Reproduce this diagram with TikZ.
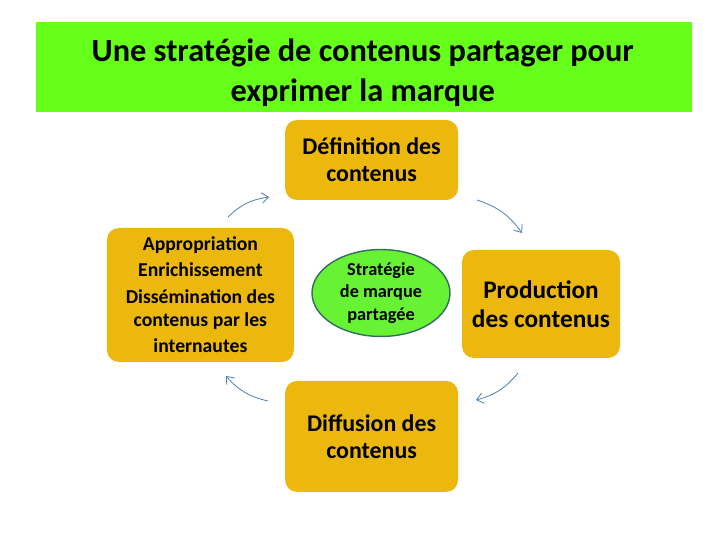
\documentclass[tikz,border=0pt]{standalone}
\usepackage{fontspec}
\setmainfont{Carlito}
\usetikzlibrary{shapes.geometric, arrows.meta}

\definecolor{titlegreen}{RGB}{102,255,26}
\definecolor{boxgold}{RGB}{236,184,14}
\definecolor{ovalgreen}{RGB}{104,242,52}
\definecolor{ovalline}{RGB}{49,110,96}
\definecolor{cyclearrow}{RGB}{84,130,186}

\tikzset{
  stepbox/.style={fill=boxgold, rounded corners=0.3cm, align=center, inner sep=0pt,
                  font=\bfseries\fontsize{17}{19}\selectfont},
  cyclearr/.style={-{Straight Barb[length=1.6mm, width=2.6mm]}, cyclearrow,
                   line width=0.6pt, bend left=18},
}

\begin{document}
\begin{tikzpicture}

\useasboundingbox (0,0) rectangle (18.2,13.65);

%------------------ TITLE ------------------%
\node[fill=titlegreen, minimum width=16.4cm, minimum height=2.25cm] (title) at (9.1,11.975) {};
\node[align=center, font=\bfseries\fontsize{23}{28.5}\selectfont] (titletext)
  at ([xshift=-0.03cm, yshift=-0.15cm]title.center)
  {Une stratégie de contenus partager pour\\exprimer la marque};

%------------------ CYCLE ------------------%
\node[stepbox, minimum width=4.325cm, minimum height=2.0cm] (def) at (9.29,9.65)
  {Définition des\\contenus};
\node[stepbox, minimum width=3.95cm, minimum height=2.7cm,
      font=\bfseries\fontsize{18}{20.6}\selectfont] (prod) at (13.525,6.05)
  {Production\\des contenus};
\node[stepbox, minimum width=4.325cm, minimum height=2.775cm] (diff) at (9.29,2.74)
  {Diffusion des\\contenus};
\node[stepbox, minimum width=4.675cm, minimum height=3.35cm,
      font=\bfseries\fontsize{14}{16.4}\selectfont] (appr) at (5.01,6.275)
  {Appropriation\\[2.2pt]Enrichissement\\[2.6pt]Dissémination des\\contenus par les\\[2.2pt]internautes};

%------------------ CENTRE ------------------%
\node[ellipse, fill=ovalgreen, draw=ovalline, line width=1pt, minimum width=3.45cm,
      minimum height=2.15cm, align=center, inner sep=0pt,
      font=\bfseries\fontsize{13}{16.2}\selectfont] (strat) at (9.525,6.325)
  {Stratégie\\de marque\\partagée};

%------------------ ARROWS ------------------%
\coordinate (A1) at (5.7,8.225);   \coordinate (B1) at (6.725,8.725);
\coordinate (A2) at (11.925,8.65);  \coordinate (B2) at (13.05,7.825);
\coordinate (A3) at (12.95,4.325);  \coordinate (B3) at (11.9,3.65);
\coordinate (A4) at (6.7,3.625);    \coordinate (B4) at (5.65,4.25);

\draw[cyclearr] (A1) to (B1);
\draw[cyclearr] (A2) to (B2);
\draw[cyclearr] (A3) to (B3);
\draw[cyclearr] (A4) to (B4);

\end{tikzpicture}
\end{document}
